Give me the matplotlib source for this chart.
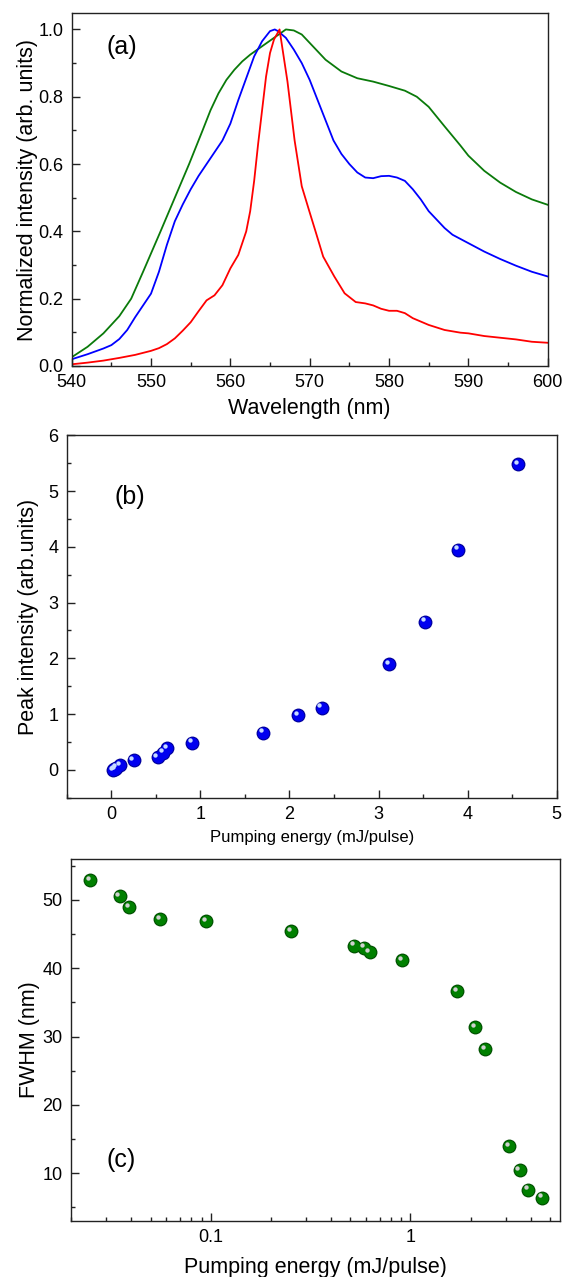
import numpy as np
import matplotlib
matplotlib.use("Agg")
import matplotlib.pyplot as plt
from matplotlib import ticker
from matplotlib.transforms import ScaledTranslation

plt.rcParams['font.family'] = ['Liberation Sans', 'DejaVu Sans']

# ---- (a) normalized emission spectra ----
wl_green = [540, 542, 544, 546, 547.5, 549, 551.2, 553, 554.8, 556.5, 557.5, 558.5,
            559.5, 560.5, 561.5, 562.5, 564, 565.5, 567, 568, 569, 570, 571, 572,
            574, 576, 578, 580, 582, 583.5, 585, 587, 589, 590, 592, 594, 596, 598,
            600]
int_green = [0.026, 0.057, 0.097, 0.148, 0.200, 0.280, 0.400, 0.500, 0.600, 0.700,
             0.760, 0.810, 0.850, 0.880, 0.905, 0.925, 0.950, 0.975, 1.000, 0.997,
             0.985, 0.960, 0.935, 0.910, 0.875, 0.855, 0.845, 0.832, 0.818, 0.800,
             0.770, 0.712, 0.655, 0.625, 0.580, 0.545, 0.517, 0.495, 0.479]

wl_blue = [540, 542, 544, 545, 546, 547, 548, 549, 550, 551, 552, 553, 554, 555, 556,
           557, 558, 559, 560, 561, 562, 563, 564, 565, 565.6, 566, 567, 568, 569,
           570, 571, 572, 573, 574, 575, 576, 577, 578, 579, 580, 581, 582, 583, 584,
           585, 586, 587, 588, 590, 592, 594, 596, 598, 600]
int_blue = [0.020, 0.035, 0.052, 0.062, 0.080, 0.107, 0.145, 0.180, 0.215, 0.280,
            0.360, 0.430, 0.480, 0.525, 0.565, 0.600, 0.635, 0.670, 0.720, 0.790,
            0.855, 0.920, 0.965, 0.995, 1.000, 0.995, 0.975, 0.940, 0.900, 0.850,
            0.790, 0.730, 0.670, 0.630, 0.600, 0.575, 0.560, 0.558, 0.564, 0.565,
            0.560, 0.550, 0.525, 0.495, 0.460, 0.435, 0.410, 0.390, 0.365, 0.340,
            0.318, 0.298, 0.280, 0.266]

wl_red = [540, 542, 544, 546, 548, 550, 551, 552, 553, 554, 555, 556, 557, 558, 559,
          560, 561, 562, 562.5, 563, 563.5, 564, 564.5, 565, 565.5, 566.2, 567.2,
          568.1, 569, 569.9, 570.8, 571.7, 573.1, 574.4, 575.8, 577, 578, 579, 580,
          581, 582, 583, 584, 585, 587, 589, 590, 592, 594, 596, 598, 600]
int_red = [0.005, 0.010, 0.016, 0.024, 0.033, 0.045, 0.053, 0.065, 0.082, 0.105,
           0.130, 0.163, 0.195, 0.210, 0.240, 0.290, 0.330, 0.400, 0.460, 0.550,
           0.660, 0.760, 0.860, 0.930, 0.970, 1.000, 0.845, 0.670, 0.534, 0.464,
           0.395, 0.325, 0.266, 0.216, 0.190, 0.186, 0.180, 0.170, 0.164, 0.164,
           0.157, 0.142, 0.132, 0.122, 0.107, 0.099, 0.097, 0.089, 0.084, 0.079,
           0.072, 0.069]

# ---- (b), (c) pumping-energy dependence ----
energy = [0.025, 0.035, 0.039, 0.056, 0.095, 0.252, 0.521, 0.585, 0.624, 0.910,
          1.705, 2.10, 2.36, 3.12, 3.52, 3.89, 4.57]
peak_intensity = [0.0, 0.01, 0.02, 0.04, 0.085, 0.18, 0.235, 0.31, 0.39, 0.49,
                  0.67, 0.985, 1.115, 1.89, 2.66, 3.95, 5.49]
fwhm = [52.9, 50.6, 48.9, 47.2, 46.9, 45.4, 43.3, 43.0, 42.3, 41.2, 36.7, 31.4,
        28.1, 14.0, 10.4, 7.6, 6.4]

TICK_FS = 13
LABEL_FS = 15.5
PANEL_FS = 18
SPINE_C = '#222222'

fig = plt.figure(figsize=(5.64, 12.77), dpi=100)


def style_axes(ax):
    for s in ax.spines.values():
        s.set_linewidth(1.0)
        s.set_color(SPINE_C)
    ax.tick_params(which='both', direction='in', top=False, right=False,
                   labelsize=TICK_FS, colors=SPINE_C, labelcolor='black')
    ax.tick_params(which='major', length=5.5, width=1.0, pad=6)
    ax.tick_params(which='minor', length=3, width=1.0)


def spheres(ax, x, y, base, edge, glint):
    ax.scatter(x, y, s=100, c=edge, linewidths=0, zorder=3)
    ax.scatter(x, y, s=70, c=base, linewidths=0, zorder=4)
    shift = ax.transData + ScaledTranslation(-1.6 / 72, 1.6 / 72, fig.dpi_scale_trans)
    ax.scatter(x, y, s=10, c=glint, linewidths=0, zorder=5, transform=shift)


# (a)
ax1 = fig.add_axes([0.1271, 0.7134, 0.8440, 0.2762])
ax1.plot(wl_green, int_green, color='#0a7a0a', lw=1.3)
ax1.plot(wl_blue, int_blue, color='#0000ff', lw=1.3)
ax1.plot(wl_red, int_red, color='#ff0000', lw=1.3)
ax1.set_xlim(540, 600)
ax1.set_ylim(0, 1.048)
ax1.xaxis.set_major_locator(ticker.MultipleLocator(10))
ax1.xaxis.set_minor_locator(ticker.MultipleLocator(5))
ax1.yaxis.set_major_locator(ticker.MultipleLocator(0.2))
ax1.yaxis.set_minor_locator(ticker.MultipleLocator(0.1))
ax1.yaxis.set_major_formatter(ticker.FormatStrFormatter('%.1f'))
style_axes(ax1)
ax1.set_xlabel('Wavelength (nm)', fontsize=LABEL_FS, labelpad=5)
ax1.set_ylabel('Normalized intensity (arb. units)', fontsize=LABEL_FS, labelpad=0)
ax1.text(0.0735, 0.905, '(a)', transform=ax1.transAxes, fontsize=PANEL_FS,
         va='center', ha='left')

# (b)
ax2 = fig.add_axes([0.1183, 0.3753, 0.8688, 0.2838])
spheres(ax2, energy, peak_intensity, '#0000f0', '#00009a', '#c8dcff')
ax2.set_xlim(-0.5, 5)
ax2.set_ylim(-0.5, 6)
ax2.xaxis.set_major_locator(ticker.MultipleLocator(1))
ax2.xaxis.set_minor_locator(ticker.MultipleLocator(0.5))
ax2.yaxis.set_major_locator(ticker.MultipleLocator(1))
ax2.yaxis.set_minor_locator(ticker.MultipleLocator(0.5))
style_axes(ax2)
ax2.set_xlabel('Pumping energy (mJ/pulse)', fontsize=12, labelpad=5)
ax2.set_ylabel('Peak intensity (arb.units)', fontsize=LABEL_FS, labelpad=7)
ax2.text(0.0965, 0.83, '(b)', transform=ax2.transAxes, fontsize=PANEL_FS,
         va='center', ha='left')

# (c)
ax3 = fig.add_axes([0.1259, 0.0439, 0.8670, 0.2835])
spheres(ax3, energy, fwhm, '#008000', '#004f00', '#d0d0d0')
ax3.set_xscale('log')
ax3.set_xlim(0.02, 5.6)
ax3.set_ylim(3, 56)
ax3.xaxis.set_major_locator(ticker.LogLocator(base=10))
ax3.xaxis.set_minor_locator(ticker.LogLocator(base=10, subs=np.arange(2, 10)))
ax3.xaxis.set_major_formatter(ticker.FormatStrFormatter('%g'))
ax3.xaxis.set_minor_formatter(ticker.NullFormatter())
ax3.yaxis.set_major_locator(ticker.MultipleLocator(10))
ax3.yaxis.set_minor_locator(ticker.MultipleLocator(5))
style_axes(ax3)
ax3.set_xlabel('Pumping energy (mJ/pulse)', fontsize=LABEL_FS, labelpad=8)
ax3.set_ylabel('FWHM (nm)', fontsize=LABEL_FS, labelpad=2)
ax3.text(0.073, 0.168, '(c)', transform=ax3.transAxes, fontsize=PANEL_FS,
         va='center', ha='left')

fig.savefig('out.png', dpi=100)
